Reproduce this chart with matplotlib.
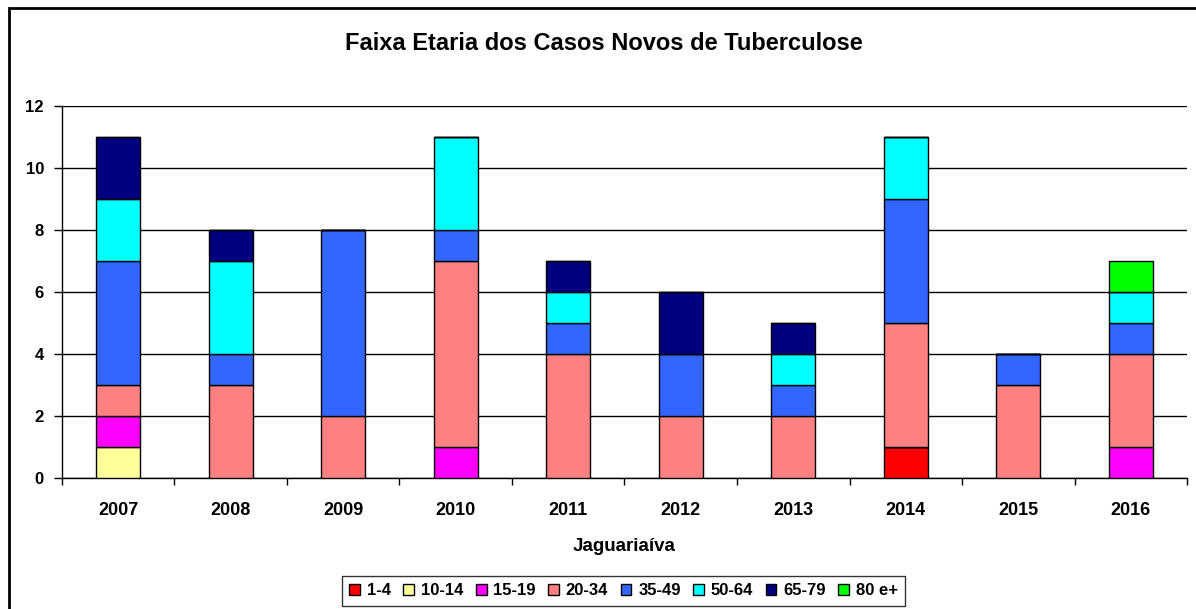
import matplotlib
matplotlib.use('Agg')
import matplotlib.pyplot as plt
import numpy as np
from matplotlib.patches import Rectangle

plt.rcParams['font.family'] = ['Liberation Sans', 'DejaVu Sans']
plt.rcParams['font.weight'] = 'bold'

anos = ['2007', '2008', '2009', '2010', '2011', '2012', '2013', '2014', '2015', '2016']
faixas = ['1-4', '10-14', '15-19', '20-34', '35-49', '50-64', '65-79', '80 e+']
cores = ['#FF0000', '#FFFF99', '#FF00FF', '#FF8080', '#3366FF', '#00FFFF', '#000080', '#00FF00']

f_1_4 = [0, 0, 0, 0, 0, 0, 0, 1, 0, 0]
f_10_14 = [1, 0, 0, 0, 0, 0, 0, 0, 0, 0]
f_15_19 = [1, 0, 0, 1, 0, 0, 0, 0, 0, 1]
f_20_34 = [1, 3, 2, 6, 4, 2, 2, 4, 3, 3]
f_35_49 = [4, 1, 6, 1, 1, 2, 1, 4, 1, 1]
f_50_64 = [2, 3, 0, 3, 1, 0, 1, 2, 0, 1]
f_65_79 = [2, 1, 0, 0, 1, 2, 1, 0, 0, 0]
f_80 = [0, 0, 0, 0, 0, 0, 0, 0, 0, 1]

series = [f_1_4, f_10_14, f_15_19, f_20_34, f_35_49, f_50_64, f_65_79, f_80]

fig = plt.figure(figsize=(11.96, 6.09), dpi=100)
ax = fig.add_axes([0.0518, 0.2151, 0.9407, 0.6113])

x = np.arange(len(anos))
base = np.zeros(len(anos))
for nome, cor, vals in zip(faixas, cores, series):
    vals = np.array(vals)
    ax.bar(x, vals, 0.39, bottom=base, color=cor, edgecolor='black',
           linewidth=1, label=nome, zorder=3)
    base += vals

ax.set_xlim(-0.5, len(anos) - 0.5)
ax.set_ylim(0, 12)
ax.set_yticks(range(0, 13, 2))
ax.yaxis.grid(True, color='black', linewidth=1, zorder=0)
ax.set_axisbelow(True)

ax.set_xticks(x)
ax.set_xticklabels(anos, fontsize=13, fontweight='bold')
ax.set_xticks(np.arange(-0.5, len(anos)), minor=True)
ax.tick_params(axis='x', which='major', length=0, pad=17)
ax.tick_params(axis='x', which='minor', length=5, width=1, color='black')
ax.tick_params(axis='y', length=6, width=1, labelsize=12, pad=7)
for lab in ax.get_yticklabels():
    lab.set_fontweight('bold')

ax.spines['top'].set_visible(False)
ax.spines['right'].set_visible(False)
ax.spines['left'].set_linewidth(1)
ax.spines['bottom'].set_linewidth(1)

ax.set_xlabel('Jaguariaíva', fontsize=13.5, fontweight='bold', labelpad=14)
fig.text(0.5046, 0.929, 'Faixa Etaria dos Casos Novos de Tuberculose',
         ha='center', va='center', fontsize=17, fontweight='bold')

leg = fig.legend(loc='center', bbox_to_anchor=(0.5213, 0.0296), ncol=8,
                 frameon=True, fancybox=False, fontsize=12,
                 handlelength=0.65, handleheight=0.65, handletextpad=0.4,
                 columnspacing=0.75, borderpad=0.45)
leg.get_frame().set_edgecolor('black')
leg.get_frame().set_linewidth(1)
for t in leg.get_texts():
    t.set_fontweight('bold')

fig.patches.append(Rectangle((0.0075, -0.1), 1.1, 1.087, transform=fig.transFigure,
                             fill=False, edgecolor='black', linewidth=2))

fig.savefig('out.png', dpi=100)
